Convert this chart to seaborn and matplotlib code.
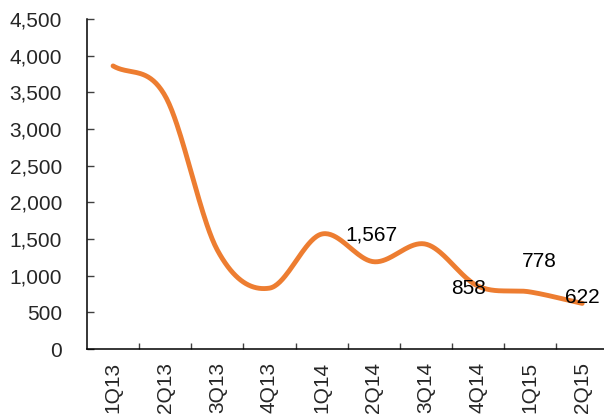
import numpy as np
import pandas as pd
import matplotlib
matplotlib.use("Agg")
import matplotlib.pyplot as plt
import seaborn as sns

quarters = ["1Q13", "2Q13", "3Q13", "4Q13", "1Q14", "2Q14", "3Q14", "4Q14", "1Q15", "2Q15"]
values = [3860, 3450, 1350, 830, 1567, 1190, 1430, 858, 778, 622]
labeled = {"1Q14": 1567, "4Q14": 858, "1Q15": 778, "2Q15": 622}
y_ticks = [0, 500, 1000, 1500, 2000, 2500, 3000, 3500, 4000, 4500]

sns.set_style("white")
plt.rcParams["font.family"] = ["Liberation Sans", "DejaVu Sans"]

LINE = "#ED7D31"


def smooth(xs, ys, n=40):
    """Catmull-Rom style cubic Hermite curve through the points."""
    xs = np.asarray(xs, float)
    ys = np.asarray(ys, float)
    m = np.empty_like(ys)
    m[1:-1] = (ys[2:] - ys[:-2]) / (xs[2:] - xs[:-2])
    m[0] = (ys[1] - ys[0]) / (xs[1] - xs[0])
    m[-1] = (ys[-1] - ys[-2]) / (xs[-1] - xs[-2])
    out_x, out_y = [], []
    for i in range(len(xs) - 1):
        h = xs[i + 1] - xs[i]
        t = np.linspace(0, 1, n, endpoint=False)
        h00 = 2 * t**3 - 3 * t**2 + 1
        h10 = t**3 - 2 * t**2 + t
        h01 = -2 * t**3 + 3 * t**2
        h11 = t**3 - t**2
        out_x.append(xs[i] + t * h)
        out_y.append(h00 * ys[i] + h10 * h * m[i] + h01 * ys[i + 1] + h11 * h * m[i + 1])
    out_x.append([xs[-1]])
    out_y.append([ys[-1]])
    return np.concatenate(out_x), np.concatenate(out_y)


pos = np.arange(len(quarters))
cx, cy = smooth(pos, values)
curve = pd.DataFrame({"x": cx, "y": cy})

fig = plt.figure(figsize=(6.04, 4.19), dpi=100)
ax = fig.add_axes([87 / 604, 70 / 419, 521.25 / 604, 330 / 419])

sns.lineplot(data=curve, x="x", y="y", ax=ax, color=LINE, linewidth=3.5,
             solid_capstyle="round", sort=False)

ax.set_xlim(-0.5, len(quarters) - 0.5)
ax.set_ylim(0, 4500)
ax.set_yticks(y_ticks)
ax.set_yticklabels([f"{v:,}" for v in y_ticks])
ax.set_xticks(pos[:-1] + 0.5)
ax.set_xticklabels([])
ax.set_xticks(pos, minor=True)
ax.set_xticklabels(quarters, minor=True, rotation=90)
ax.set_xlabel("")
ax.set_ylabel("")

ax.tick_params(axis="y", which="major", direction="in", length=5, width=1,
               color="#404040", labelsize=15, pad=18, left=True)
ax.tick_params(axis="x", which="major", direction="in", length=4.5, width=1,
               color="#404040", bottom=True)
ax.tick_params(axis="x", which="minor", length=0, labelsize=15, pad=9)

for side in ("top", "right"):
    ax.spines[side].set_visible(False)
for side in ("left", "bottom"):
    ax.spines[side].set_color("black")
    ax.spines[side].set_linewidth(1.1)

offsets = {"1Q14": (36, -1), "4Q14": (-7, -1.5), "1Q15": (6.5, 22), "2Q15": (0, 4.5)}
for q, v in labeled.items():
    i = quarters.index(q)
    ax.annotate(f"{v:,}", xy=(i, v), xytext=offsets[q], textcoords="offset points",
                ha="center", va="center", fontsize=15, color="black")

fig.savefig("out.png", dpi=100)
